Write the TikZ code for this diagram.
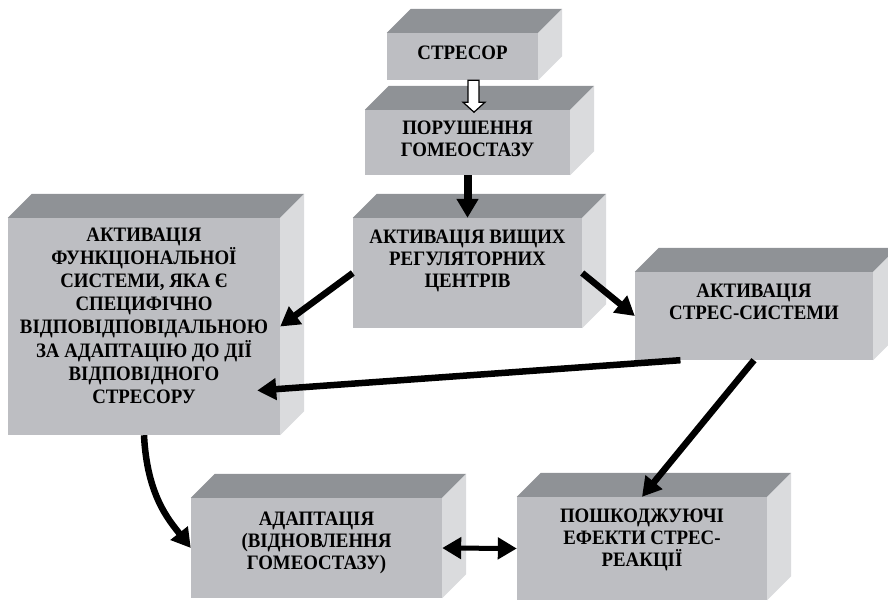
\documentclass[tikz,border=0pt]{standalone}
\usepackage{fontspec}
\setmainfont{Liberation Serif}
\newfontfamily\boxfont{Liberation Serif}[FakeStretch=0.92]
\usetikzlibrary{arrows.meta,calc}
\definecolor{frontgray}{RGB}{189,190,194}
\definecolor{topgray}{RGB}{143,146,150}
\definecolor{sidegray}{RGB}{218,219,221}

\begin{document}
\begin{tikzpicture}[x=1pt, y=-1pt, >={Triangle[length=19pt,width=21pt]},
  block/.style={fill=frontgray, inner sep=0pt, align=center, font=\boxfont\fontsize{20.5}{22}\selectfont\bfseries},
  link/.style={->, line width=6.5pt}]

\useasboundingbox (0,0) rectangle (888,601);

\node[block, minimum width=151pt, minimum height=47pt, text depth=8pt] (stressor) at (462.5,56.5) {СТРЕСОР};
\node[block, minimum width=205pt, minimum height=65pt, text depth=8pt] (disturb) at (467.5,142.5) {ПОРУШЕННЯ\\ГОМЕОСТАЗУ};
\node[block, minimum width=229pt, minimum height=110pt, text depth=28pt] (centers) at (467.5,273) {АКТИВАЦІЯ ВИЩИХ\\РЕГУЛЯТОРНИХ\\ЦЕНТРІВ};
\node[block, minimum width=272pt, minimum height=217pt, text depth=22pt, font=\boxfont\fontsize{20.5}{23.2}\selectfont\bfseries] (funcsys) at (144,326.5)
  {АКТИВАЦІЯ\\ФУНКЦІОНАЛЬНОЇ\\СИСТЕМИ, ЯКА Є\\СПЕЦИФІЧНО\\ВІДПОВІДПОВІДАЛЬНОЮ\\ЗА АДАПТАЦІЮ ДО ДІЇ\\ВІДПОВІДНОГО\\СТРЕСОРУ};
\node[block, minimum width=238pt, minimum height=88pt, text depth=28pt] (stresssys) at (754,316) {АКТИВАЦІЯ\\СТРЕС-СИСТЕМИ};
\node[block, minimum width=251pt, minimum height=100pt, text depth=14pt] (adapt) at (316.5,548) {АДАПТАЦІЯ\\(ВІДНОВЛЕННЯ\\ГОМЕОСТАЗУ)};
\node[block, minimum width=250pt, minimum height=103pt, text depth=22pt] (damage) at (642,548.5) {ПОШКОДЖУЮЧІ\\ЕФЕКТИ СТРЕС-\\РЕАКЦІЇ};

\foreach \n in {stressor,disturb,centers,funcsys,stresssys,adapt,damage} {
  \fill[topgray] (\n.north west) -- ++(24,-24) -- ($(\n.north east)+(24,-24)$) -- (\n.north east) -- cycle;
  \fill[sidegray] (\n.north east) -- ++(24,-24) -- ($(\n.south east)+(24,-24)$) -- (\n.south east) -- cycle;
}

\draw[fill=white, line width=1.2pt] ($(stressor.south)+(5.5,0)$) -- ++(0,22) -- ++(-5,0) -- ++(11,10) -- ++(11,-10) -- ++(-6,0) -- ++(0,-22) -- cycle;
\draw[->, line width=8pt] (disturb.south) -- (centers.north);
\draw[link] (centers.west) -- (funcsys.east);
\draw[link] (centers.east) -- (stresssys.west);
\draw[link] (stresssys.211) -- ([shift={(-23,64)}]funcsys.east);
\draw[link] (stresssys.south) -- (damage.north);
\draw[link] (funcsys.south) .. controls +(3,60) and +(-22,-28) .. (adapt.west);
\draw[<->, line width=5pt] (adapt.east) -- (damage.west);

\end{tikzpicture}
\end{document}
